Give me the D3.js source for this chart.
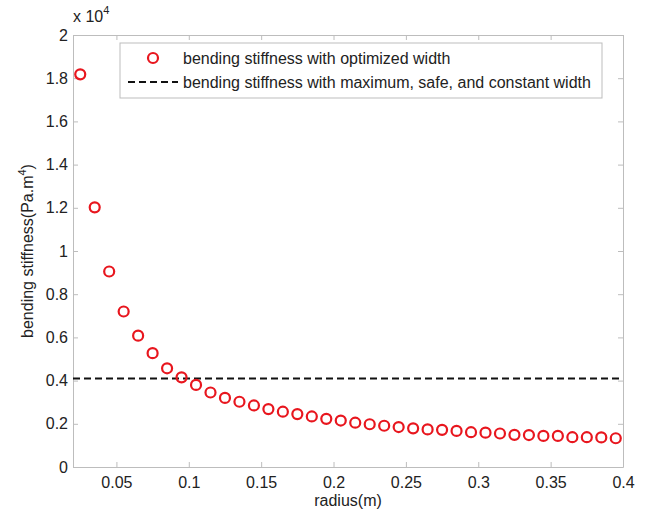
<!DOCTYPE html>
<meta charset="utf-8">
<script src="https://d3js.org/d3.v7.min.js"></script>
<style>
 body { margin: 0; background: #fff; }
 svg { font-family: "Liberation Sans", Arial, sans-serif; }
</style>
<div id="chart"></div>
<script>
 // radius (m) and bending stiffness (x 10^4 Pa.m^4)
 const radius = [0.025, 0.035, 0.045, 0.055, 0.065, 0.075, 0.085, 0.095, 0.105, 0.115,
                 0.125, 0.135, 0.145, 0.155, 0.165, 0.175, 0.185, 0.195, 0.205, 0.215,
                 0.225, 0.235, 0.245, 0.255, 0.265, 0.275, 0.285, 0.295, 0.305, 0.315,
                 0.325, 0.335, 0.345, 0.355, 0.365, 0.375, 0.385, 0.395];
 const stiffness = [1.818, 1.202, 0.905, 0.72, 0.608, 0.527, 0.457, 0.415, 0.38, 0.345,
                    0.32, 0.302, 0.285, 0.268, 0.256, 0.245, 0.234, 0.223, 0.215, 0.205,
                    0.198, 0.191, 0.185, 0.179, 0.174, 0.172, 0.167, 0.161, 0.159, 0.155,
                    0.149, 0.148, 0.144, 0.144, 0.138, 0.138, 0.137, 0.133];
 const constStiffness = 0.41;
 const xTicks = [0.05, 0.1, 0.15, 0.2, 0.25, 0.3, 0.35, 0.4];
 const yTicks = [0, 0.2, 0.4, 0.6, 0.8, 1, 1.2, 1.4, 1.6, 1.8, 2];
 const legendLabels = ["bending stiffness with optimized width",
                       "bending stiffness with maximum, safe, and constant width"];

 const W = 646, H = 511;
 const margin = {top: 35, right: 23, bottom: 44, left: 73};
 const width = W - margin.left - margin.right,
       height = H - margin.top - margin.bottom;
 const red = "#e8161e", axisCol = "#bdbdbd", textCol = "#222", fs = "16px";

 const svg = d3.select("#chart").append("svg")
   .attr("width", W).attr("height", H)
   .append("g")
   .attr("transform", `translate(${margin.left},${margin.top})`);

 const x = d3.scaleLinear().domain([0.02, 0.4]).range([0, width]);
 const y = d3.scaleLinear().domain([0, 2]).range([height, 0]);

 const fmt = d => String(+d.toFixed(2));

 // axes, MATLAB style: ticks inside, box all round
 svg.append("g").attr("transform", `translate(0,${height})`)
   .call(d3.axisBottom(x).tickValues(xTicks).tickFormat(fmt).tickSizeInner(-5).tickSizeOuter(0).tickPadding(10));
 svg.append("g")
   .call(d3.axisLeft(y).tickValues(yTicks).tickFormat(fmt).tickSizeInner(-5).tickSizeOuter(0).tickPadding(5));
 svg.append("g")
   .call(d3.axisTop(x).tickValues(xTicks).tickFormat("").tickSizeInner(-5).tickSizeOuter(0));
 svg.append("g").attr("transform", `translate(${width},0)`)
   .call(d3.axisRight(y).tickValues(yTicks).tickFormat("").tickSizeInner(-5).tickSizeOuter(0));

 svg.selectAll(".domain, .tick line").attr("stroke", axisCol);
 svg.selectAll(".tick text").attr("fill", textCol).style("font-size", fs);

 // constant width line
 svg.append("line")
   .attr("x1", 0).attr("x2", width)
   .attr("y1", y(constStiffness)).attr("y2", y(constStiffness))
   .attr("stroke", "#111").attr("stroke-width", 2).attr("stroke-dasharray", "7,4");

 // optimized width markers
 svg.append("g").selectAll("circle")
   .data(radius.map((r, i) => ({r, s: stiffness[i]})))
   .join("circle")
   .attr("cx", d => x(d.r))
   .attr("cy", d => y(d.s))
   .attr("r", 5)
   .attr("fill", "none")
   .attr("stroke", red)
   .attr("stroke-width", 2.2);

 // exponent label
 const ex = svg.append("text").attr("x", 0).attr("y", -13)
   .attr("fill", textCol).style("font-size", fs);
 ex.append("tspan").text("x 10");
 ex.append("tspan").attr("dy", -8).style("font-size", "11px").text("4");

 // axis labels
 svg.append("text").attr("x", width / 2).attr("y", height + 39)
   .attr("text-anchor", "middle").attr("fill", textCol).style("font-size", fs)
   .text("radius(m)");
 const yl = svg.append("text")
   .attr("transform", `translate(-40,${height / 2}) rotate(-90)`)
   .attr("text-anchor", "middle").attr("fill", textCol).style("font-size", fs);
 yl.append("tspan").text("bending stiffness(Pa.m");
 yl.append("tspan").attr("dy", -7).style("font-size", "11px").text("4");
 yl.append("tspan").attr("dy", 7).text(")");

 // legend
 const lg = svg.append("g").attr("transform", "translate(47,8)");
 lg.append("rect").attr("width", 482).attr("height", 55)
   .attr("fill", "#fff").attr("stroke", axisCol);
 lg.append("circle").attr("cx", 33).attr("cy", 15).attr("r", 5)
   .attr("fill", "none").attr("stroke", red).attr("stroke-width", 2.2);
 lg.append("line").attr("x1", 8).attr("x2", 58).attr("y1", 39).attr("y2", 39)
   .attr("stroke", "#111").attr("stroke-width", 2).attr("stroke-dasharray", "7,4");
 lg.selectAll("text.lab").data(legendLabels).join("text")
   .attr("class", "lab")
   .attr("x", 63).attr("y", (d, i) => 21 + i * 24)
   .attr("fill", textCol).style("font-size", fs)
   .text(d => d);
</script>
